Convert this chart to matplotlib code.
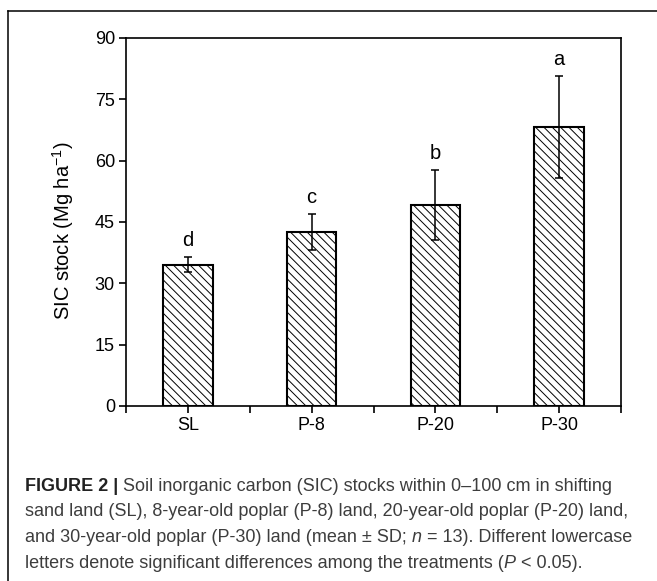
import numpy as np
import matplotlib
matplotlib.use('Agg')
import matplotlib.pyplot as plt
from matplotlib.lines import Line2D

# values (mean and SD, Mg ha-1)
sites = ['SL', 'P-8', 'P-20', 'P-30']
sic_mean = [34.6, 42.5, 49.2, 68.3]
sic_sd = [1.8, 4.4, 8.6, 12.5]
letters = ['d', 'c', 'b', 'a']
yticks = [0, 15, 30, 45, 60, 75, 90]

plt.rcParams['font.family'] = ['Liberation Sans', 'DejaVu Sans']
plt.rcParams['mathtext.fontset'] = 'custom'
plt.rcParams['mathtext.rm'] = 'Liberation Sans'
plt.rcParams['hatch.linewidth'] = 0.7
plt.rcParams['hatch.color'] = '#333333'

W, H = 657, 581
fig = plt.figure(figsize=(W / 100, H / 100), dpi=100)
ax = fig.add_axes([126 / W, 1 - 406 / H, (621 - 126) / W, (406 - 38) / H])

x = np.arange(len(sites))
ax.bar(x, sic_mean, width=0.4, color='white', edgecolor='black',
       linewidth=1.5, hatch='\\\\\\\\', zorder=2)
ax.errorbar(x, sic_mean, yerr=sic_sd, fmt='none', ecolor='black',
            elinewidth=1.1, capsize=3, capthick=1.1, zorder=3)
for xi, m, s, lab in zip(x, sic_mean, sic_sd, letters):
    ax.annotate(lab, (xi, m + s), xytext=(0, 5), textcoords='offset points',
                ha='center', va='bottom', fontsize=14.5)

ax.set_xlim(-0.5, len(sites) - 0.5)
ax.set_ylim(0, 90)
ax.set_yticks(yticks)
ax.set_xticks(x)
ax.set_xticklabels(sites)
ax.set_xticks(np.arange(len(sites) + 1) - 0.5, minor=True)
ax.tick_params(axis='both', direction='out', length=5, width=1.2,
               labelsize=13, pad=3)
ax.tick_params(axis='x', which='minor', length=5, width=1.2)
ax.set_ylabel('SIC stock (Mg ha$\\mathrm{^{-1}}$)', fontsize=14.5)
ax.yaxis.set_label_coords(-0.1, 0.475)
for sp in ax.spines.values():
    sp.set_linewidth(1.2)

# outer frame (only left and top visible in the crop)
fig.add_artist(Line2D([8 / W, 8 / W], [0, 1 - 11 / H], color='black',
                      linewidth=1.1, transform=fig.transFigure))
fig.add_artist(Line2D([8 / W, 1], [1 - 11 / H, 1 - 11 / H], color='black',
                      linewidth=1.1, transform=fig.transFigure))

# caption, drawn piece by piece so bold / italic parts sit inline
fig.canvas.draw()
renderer = fig.canvas.get_renderer()
cap_size = 13.0
cap_color = '#3d3d3d'


def width_px(s, **kw):
    t = fig.text(0, 0, s, fontsize=cap_size, **kw)
    w = t.get_window_extent(renderer).width
    t.remove()
    return w


space = width_px('x x') - width_px('xx')

caption = [
    [('FIGURE 2 |', dict(weight='bold', color='#222222')), (' ', {}),
     ('Soil inorganic carbon (SIC) stocks within 0–100 cm in shifting', {})],
    [('sand land (SL), 8-year-old poplar (P-8) land, 20-year-old poplar (P-20) land,', {})],
    [('and 30-year-old poplar (P-30) land (mean ± SD;', {}), (' ', {}),
     ('n', dict(style='italic')), (' ', {}),
     ('= 13). Different lowercase', {})],
    [('letters denote significant differences among the treatments (', {}),
     ('P', dict(style='italic')), (' ', {}), ('< 0.05).', {})],
]
baselines = [491, 516.5, 542, 567.5]

for parts, yb in zip(caption, baselines):
    xp = 25
    for txt, kw in parts:
        if txt == ' ':
            xp += space
            continue
        style = dict(color=cap_color)
        style.update(kw)
        t = fig.text(xp / W, 1 - yb / H, txt, fontsize=cap_size,
                     va='baseline', ha='left', **style)
        xp += t.get_window_extent(renderer).width

fig.savefig('out.png', dpi=100)
